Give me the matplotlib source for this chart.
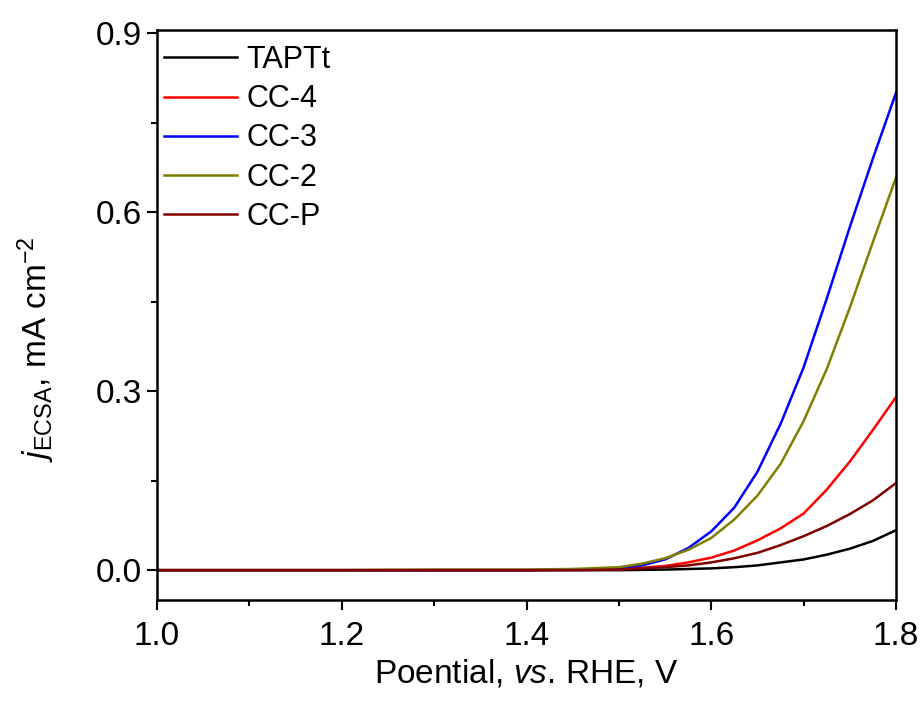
import numpy as np
import matplotlib
matplotlib.use("Agg")
import matplotlib.pyplot as plt
from matplotlib.ticker import MultipleLocator

plt.rcParams['font.family'] = 'Liberation Sans'
plt.rcParams['mathtext.fontset'] = 'custom'
plt.rcParams['mathtext.rm'] = 'Liberation Sans'
plt.rcParams['mathtext.it'] = 'Liberation Sans:italic'

potential = [1.0, 1.1, 1.2, 1.3, 1.4, 1.45, 1.5, 1.525, 1.55, 1.575, 1.6,
             1.625, 1.65, 1.675, 1.7, 1.725, 1.75, 1.775, 1.8]

tapt = [0, 0, 0, 0, 0, 0, 0, 0.0005, 0.001, 0.002, 0.003,
        0.005, 0.008, 0.013, 0.018, 0.026, 0.036, 0.049, 0.067]
cc4 = [0, 0, 0, 0, 0, 0.001, 0.002, 0.004, 0.007, 0.013, 0.021,
       0.033, 0.050, 0.070, 0.095, 0.135, 0.182, 0.235, 0.290]
cc3 = [0, 0, 0, 0, 0, 0.001, 0.003, 0.008, 0.018, 0.037, 0.065,
       0.105, 0.165, 0.245, 0.340, 0.455, 0.575, 0.690, 0.800]
cc2 = [0, 0, 0, 0.001, 0.001, 0.002, 0.005, 0.011, 0.020, 0.034, 0.054,
       0.085, 0.125, 0.178, 0.250, 0.337, 0.440, 0.550, 0.658]
ccp = [0, 0, 0, 0, 0, 0, 0.001, 0.003, 0.005, 0.008, 0.013,
       0.020, 0.029, 0.042, 0.057, 0.074, 0.094, 0.117, 0.146]

series = [("TAPTt", tapt, "black"),
          ("CC-4", cc4, "#ff0000"),
          ("CC-3", cc3, "#0000ff"),
          ("CC-2", cc2, "#808000"),
          ("CC-P", ccp, "#800000")]

fig = plt.figure(figsize=(9.21, 7.04), dpi=100)
ax = fig.add_axes([0.1705, 0.1477, 0.8024, 0.8097])

for name, vals, col in series:
    ax.plot(potential, vals, color=col, lw=1.8, label=name)

ax.set_xlim(1.0, 1.8)
ax.set_ylim(-0.05, 0.905)
ax.xaxis.set_major_locator(MultipleLocator(0.2))
ax.xaxis.set_minor_locator(MultipleLocator(0.1))
ax.yaxis.set_major_locator(MultipleLocator(0.3))
ax.yaxis.set_minor_locator(MultipleLocator(0.15))
ax.tick_params(which='major', direction='out', length=7, width=1.5, labelsize=24, pad=4)
ax.tick_params(which='minor', direction='out', length=4, width=1.5)
ax.tick_params(axis='x', which='major', pad=8)
for s in ax.spines.values():
    s.set_linewidth(1.8)

ax.set_xlabel(r'Poential, $\mathit{vs}$. RHE, V', fontsize=24, labelpad=4)
ax.set_ylabel(r'$\mathit{j}_{\mathrm{ECSA}}$, mA cm$^{-2}$', fontsize=24)
ax.yaxis.set_label_coords(-0.135, 0.44)

ax.legend(loc='upper left', frameon=False, fontsize=22, handlelength=2.4,
          handletextpad=0.3, labelspacing=0.3, borderaxespad=0.0,
          bbox_to_anchor=(-0.007, 0.995))

fig.savefig("out.png", dpi=100)
